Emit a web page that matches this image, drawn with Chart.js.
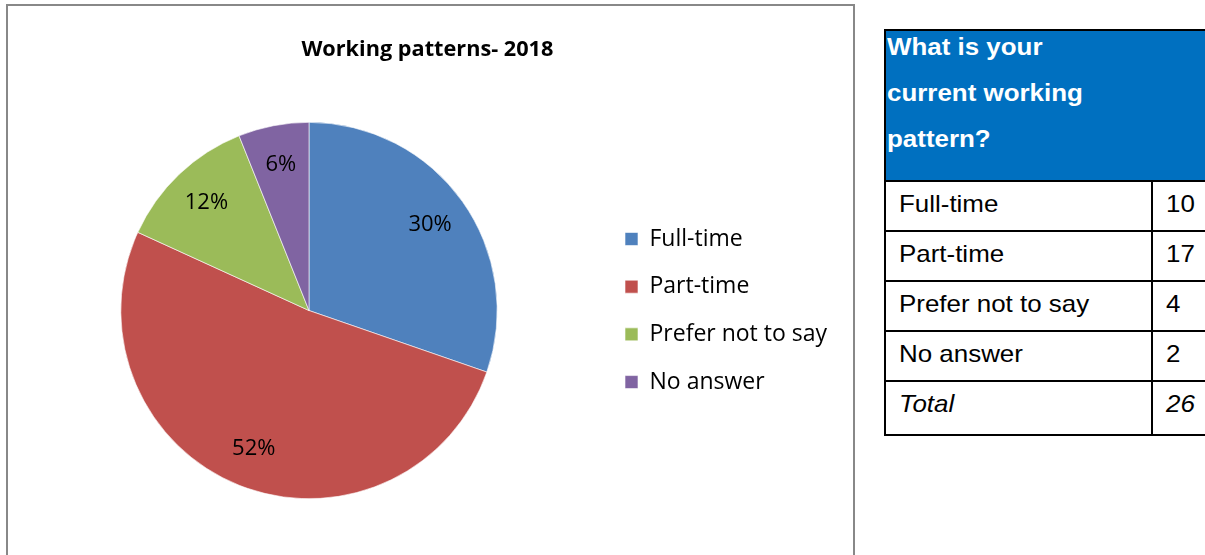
<!DOCTYPE html>
<html>
<head>
<meta charset="utf-8">
<script src="https://cdn.jsdelivr.net/npm/chart.js@4.4.1/dist/chart.umd.min.js"></script>
<style>
  html, body { margin: 0; padding: 0; background: #fff; width: 1205px; height: 555px; overflow: hidden; position: relative; }
  #frame { position: absolute; left: 6px; top: 4px; width: 849px; height: 600px; border: 2px solid #888; box-sizing: border-box; }
  #pie { position: absolute; left: 0; top: 0; }
  #tbl { position: absolute; left: 884px; top: 29px; width: 340px; border: 2px solid #000; box-sizing: border-box;
         font-family: "Liberation Sans", Arial, sans-serif; background: #fff; }
  #tbl .head { height: 151px; background: #0070C0; border-bottom: 2px solid #000; box-sizing: border-box; color: #fff;
               font-weight: bold; font-size: 24px; line-height: 46px; padding-left: 1px; overflow: hidden; }
  #tbl .head .txt { position: relative; top: -7px; transform: scaleX(1.08); transform-origin: 0 0; }
  #tbl .row { display: flex; height: 50px; border-bottom: 2px solid #000; box-sizing: border-box; font-size: 24px; line-height: 44px; color: #000; }
  #tbl .row:last-child { border-bottom: none; height: 52px; }
  #tbl .row.total { font-style: italic; }
  #tbl .c1 { width: 267px; border-right: 2px solid #000; box-sizing: border-box; padding-left: 13px; flex: none; }
  #tbl .c2 { padding-left: 13px; }
  #tbl .t { display: inline-block; transform: scaleX(1.08); transform-origin: 0 50%; white-space: nowrap; }
</style>
</head>
<body>
<div id="frame"></div>
<canvas id="pie" width="860" height="555"></canvas>
<div id="tbl"></div>
<script>
// Survey answers: current working pattern
const chartTitle = 'Working patterns- 2018';
const categories = ['Full-time', 'Part-time', 'Prefer not to say', 'No answer'];
const counts = [10, 17, 4, 2];
const sliceColors = ['#4F81BD', '#C0504D', '#9BBB59', '#8064A2'];

// Side table
const questionLines = ['What is your', 'current working', 'pattern?'];
const totalLabel = 'Total';
const totalValue = 26;

// ---- table ----
const tbl = document.getElementById('tbl');
const head = document.createElement('div');
head.className = 'head';
const headTxt = document.createElement('div');
headTxt.className = 'txt';
questionLines.forEach((line, i) => {
  if (i) headTxt.appendChild(document.createElement('br'));
  headTxt.appendChild(document.createTextNode(line));
});
head.appendChild(headTxt);
tbl.appendChild(head);

function addRow(label, value, cls) {
  const row = document.createElement('div');
  row.className = 'row' + (cls ? ' ' + cls : '');
  const c1 = document.createElement('div'); c1.className = 'c1';
  const c2 = document.createElement('div'); c2.className = 'c2';
  const t1 = document.createElement('span'); t1.className = 't'; t1.textContent = label;
  const t2 = document.createElement('span'); t2.className = 't'; t2.textContent = String(value);
  c1.appendChild(t1); c2.appendChild(t2);
  row.appendChild(c1); row.appendChild(c2);
  tbl.appendChild(row);
}
categories.forEach((c, i) => addRow(c, counts[i]));
addRow(totalLabel, totalValue, 'total');

// ---- pie ----
const fontFamily = '"Open Sans"';
const legendFont = { family: fontFamily, size: 23 };
const legendBoxW = 13;
const legendBoxH = 13;
const legendGap = 24.7;
const pieCenterX = 309;
const legendItemX = 625;

// percentage labels inside each slice
const sliceLabels = {
  id: 'sliceLabels',
  afterDatasetsDraw(chart, args, opts) {
    const meta = chart.getDatasetMeta(0);
    const data = chart.data.datasets[0].data;
    const total = data.reduce((a, b) => a + b, 0);
    const c = chart.ctx;
    c.save();
    c.font = opts.font;
    c.fillStyle = opts.color;
    c.textAlign = 'center';
    c.textBaseline = 'middle';
    meta.data.forEach((arc, i) => {
      const p = arc.getProps(['x', 'y', 'startAngle', 'endAngle', 'outerRadius'], true);
      const mid = (p.startAngle + p.endAngle) / 2;
      const r = p.outerRadius * opts.radius;
      c.fillText(Math.round(data[i] / total * 100) + '%', p.x + Math.cos(mid) * r, p.y + Math.sin(mid) * r);
    });
    c.restore();
  }
};

const canvas = document.getElementById('pie');
const chart = new Chart(canvas, {
  type: 'pie',
  data: {
    labels: categories,
    datasets: [{
      data: counts,
      backgroundColor: sliceColors,
      borderColor: '#ffffff',
      borderWidth: 0.6
    }]
  },
  options: {
    responsive: false,
    animation: false,
    layout: { padding: { left: 20, right: 20, top: 0, bottom: 56 } },
    plugins: {
      title: {
        display: true,
        text: chartTitle,
        color: '#000',
        font: { family: fontFamily, size: 21.7, weight: 'bold', lineHeight: 1.2 },
        padding: { top: 37, bottom: 59 }
      },
      legend: {
        position: 'right',
        align: 'center',
        fullSize: false,
        labels: {
          color: '#000',
          font: legendFont,
          boxWidth: legendBoxW,
          boxHeight: legendBoxH,
          padding: legendGap
        }
      },
      tooltip: { enabled: false },
      sliceLabels: { font: '22px "Open Sans"', color: '#000', radius: 0.79 }
    }
  },
  plugins: [sliceLabels]
});

// place the legend swatches and the pie centre, then redraw
for (let pass = 0; pass < 3; pass++) {
  const pad = chart.options.layout.padding;
  pad.right += (chart.legend.left + legendGap) - legendItemX;
  chart.update('none');
  const area = chart.chartArea;
  pad.left += 2 * (pieCenterX - (area.left + area.right) / 2);
  chart.update('none');
}
</script>
</body>
</html>
